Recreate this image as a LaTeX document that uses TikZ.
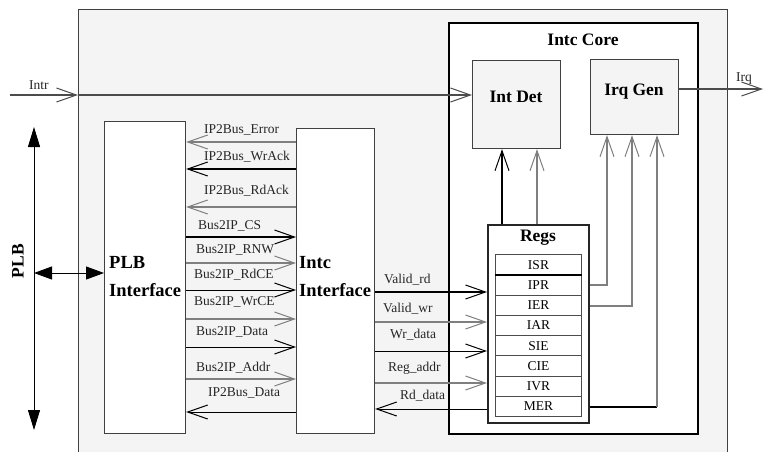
\documentclass[tikz,border=0pt]{standalone}
\usepackage{fontspec}
\setmainfont{Liberation Serif}
\usetikzlibrary{arrows.meta,positioning,calc}

\definecolor{panel}{HTML}{F4F4F4}
\definecolor{wire}{HTML}{7F7F7F}

\tikzset{
  box/.style={draw=black!75,line width=1.2pt,fill=white,inner sep=0pt,anchor=north west},
  regrow/.style={draw=black!70,line width=1pt,fill=white,inner sep=0pt,anchor=north west,
    minimum width=86pt,minimum height=20.25pt,font=\fontsize{13.5}{15}\selectfont},
  tohead/.style={-{Straight Barb[length=20pt,width=14pt,line width=1pt]}},
  fromhead/.style={{Straight Barb[length=20pt,width=14pt,line width=1pt]}-},
  sig/.style={font=\fontsize{13.5}{15}\selectfont,text=black!85,inner sep=0pt,anchor=west},
  title/.style={font=\bfseries\fontsize{17.5}{20}\selectfont,inner sep=0pt},
  big/.style={font=\bfseries\fontsize{18.5}{28}\selectfont,inner sep=0pt,align=left,anchor=west},
  gry/.style={wire,line width=1.1pt},
  blk/.style={black,line width=1pt},
  thk/.style={black,line width=1.8pt}
}

\begin{document}
\begin{tikzpicture}[x=1pt,y=-1pt]
\useasboundingbox (0,0) rectangle (764,451);
\clip (0,0) rectangle (764,451);
\fill[white] (0,0) rectangle (764,451);

% outer frame and the core
\node[box,fill=panel,minimum width=649pt,minimum height=470pt] (outer) at (78,9) {};
\node[box,draw=black,line width=1.6pt,minimum width=249pt,minimum height=411pt] (core) at (448,22) {};
\node[title] (coret) at (583,40) {Intc Core};

\node[box,fill=panel,minimum width=88pt,minimum height=88pt] (intdet) at (472,60) {};
\node[title] (intdett) at (516,97) {Int Det};
\node[box,fill=panel,minimum width=88pt,minimum height=75pt] (irqgen) at (590,59) {};
\node[title] (irqgent) at (634,92) {Irq Gen};

% interfaces
\node[box,minimum width=81pt,minimum height=312pt] (plbif) at (104,121) {};
\node[big] (plbift) at (109,277) {PLB\\Interface};
\node[box,minimum width=78pt,minimum height=305pt] (intcif) at (296,128) {};
\node[big] (intcift) at (299,277) {Intc\\Interface};

% register file
\node[box,draw=black!85,line width=1.5pt,minimum width=101pt,minimum height=198pt] (regs) at (487,224) {};
\node[title] (regst) at (538,238) {Regs};
\foreach \r [count=\i] in {ISR,IPR,IER,IAR,SIE,CIE,IVR,MER}
  \node[regrow] (r\i) at (495,{254+(\i-1)*20.25}) {\r};
\draw[thk] (r1.south west) -- (r1.south east);

% PLB bus
\coordinate (plbtop) at (34,127);
\coordinate (plbbot) at (34,430);
\draw[{Triangle[length=20pt,width=12pt]}-{Triangle[length=20pt,width=12pt]},line width=1pt] (plbtop) -- (plbbot);
\draw[{Triangle[length=18pt,width=13pt]}-{Triangle[length=18pt,width=13pt]},line width=1pt] (plbtop |- 0,273) -- (plbif.west |- 0,273);
\node[rotate=90,font=\bfseries\fontsize{17.5}{20}\selectfont,inner sep=0pt] (plb) at (18,261) {PLB};

% Intr and Irq
\coordinate (intr) at (10,95);
\draw[black!70,line width=1.1pt,tohead] (intr) -- (outer.west |- intr);
\draw[black!70,line width=1.1pt,tohead] (outer.west |- intr) -- (intdet.west |- intr);
\node[sig] (intrt) at (29,85) {Intr};
\coordinate (irq) at (763,89);
\draw[black!70,line width=1.1pt,tohead] (irqgen.east |- irq) -- (irq);
\node[sig] (irqt) at (736,79) {Irq};

% PLB Interface <-> Intc Interface
\foreach \y/\lbl/\st/\dir/\lx/\ly [count=\k] in {
  142/IP2Bus\_Error/gry/fromhead/204/130,
  169/IP2Bus\_WrAck/thk/fromhead/204/157,
  207/IP2Bus\_RdAck/gry/fromhead/204/191,
  237/Bus2IP\_CS/thk/tohead/198/226,
  263/Bus2IP\_RNW/gry/tohead/196/250,
  290/Bus2IP\_RdCE/blk/tohead/194/275,
  319/Bus2IP\_WrCE/gry/tohead/194/302,
  347/Bus2IP\_Data/blk/tohead/196/332,
  379/Bus2IP\_Addr/gry/tohead/196/368,
  412/IP2Bus\_Data/blk/fromhead/208/393}
{
  \draw[\st,\dir] (plbif.east |- 0,\y) -- (intcif.west |- 0,\y);
  \node[sig] (ls\k) at (\lx,\ly) {\lbl};
}

% Intc Interface <-> Regs
\foreach \y/\lbl/\st/\dir/\lx/\ly [count=\k] in {
  292/Valid\_rd/thk/tohead/384/280,
  322/Valid\_wr/gry/tohead/383/309,
  351/Wr\_data/blk/tohead/390/335,
  383/Reg\_addr/gry/tohead/388/368,
  409/Rd\_data/blk/fromhead/400/396}
{
  \draw[\st,\dir] (intcif.east |- 0,\y) -- (regs.west |- 0,\y);
  \node[sig] (rs\k) at (\lx,\ly) {\lbl};
}

% Regs -> Int Det
\draw[black,line width=1.5pt,tohead] (regs.north -| 502,0) -- (intdet.south -| 502,0);
\draw[gry,tohead] (regs.north -| 537,0) -- (intdet.south -| 537,0);

% Regs -> Irq Gen
\draw[gry,tohead] (regs.east |- 0,285) -| (irqgen.south -| 607,0);
\draw[gry,tohead] (regs.east |- 0,306) -| (irqgen.south -| 632,0);
\coordinate (merc) at (657,407);
\draw[thk] (regs.east |- merc) -- (merc);
\draw[gry,tohead] (merc) -- (irqgen.south -| merc);
\end{tikzpicture}
\end{document}
